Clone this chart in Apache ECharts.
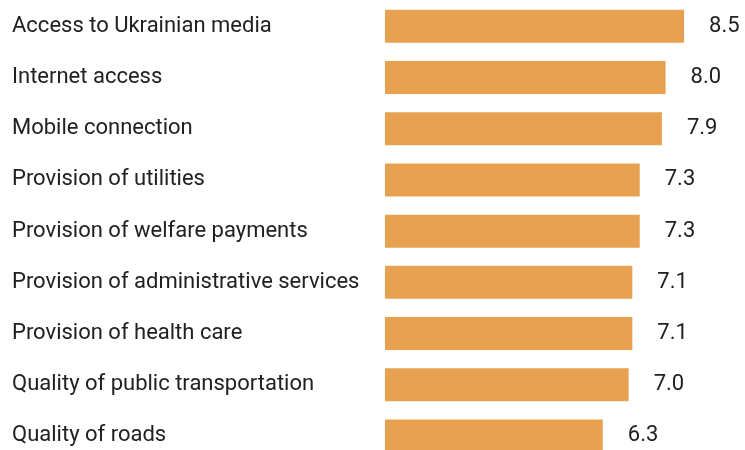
<!DOCTYPE html>
<html>
<head>
<meta charset="utf-8">
<script src="https://cdn.jsdelivr.net/npm/echarts@6/dist/echarts.min.js"></script>
<style>
  html, body { margin: 0; padding: 0; background: #ffffff; }
  #chart { width: 745px; height: 450px; }
</style>
</head>
<body>
<div id="chart"></div>
<script>
// Categories, top to bottom
const categories = [
  'Access to Ukrainian media',
  'Internet access',
  'Mobile connection',
  'Provision of utilities',
  'Provision of welfare payments',
  'Provision of administrative services',
  'Provision of health care',
  'Quality of public transportation',
  'Quality of roads'
];

// Scores for each category
const scores = [8.5, 8.0, 7.9, 7.3, 7.3, 7.1, 7.1, 7.0, 6.3];

const chart = echarts.init(document.getElementById('chart'), null, { renderer: 'canvas' });

chart.setOption({
  animation: false,
  backgroundColor: '#ffffff',
  grid: {
    left: 385, width: 354.5, top: 0.75, height: 460.8,
    containLabel: false,
    outerBoundsMode: 'none'
  },
  xAxis: {
    type: 'value',
    min: 0.406,
    max: 10,
    show: false
  },
  yAxis: {
    type: 'category',
    data: categories,
    inverse: true,
    axisLine: { show: false },
    axisTick: { show: false },
    splitLine: { show: false },
    axisLabel: {
      align: 'left',
      margin: 373,
      color: '#212121',
      fontFamily: 'Roboto',
      fontSize: 22
    }
  },
  series: [{
    type: 'bar',
    data: scores,
    barWidth: 33,
    clip: true,
    itemStyle: { color: '#e8a151' },
    label: {
      show: true,
      position: 'right',
      distance: 25,
      color: '#212121',
      fontFamily: 'Roboto',
      fontSize: 22,
      formatter: p => p.value.toFixed(1)
    }
  }]
});
</script>
</body>
</html>
